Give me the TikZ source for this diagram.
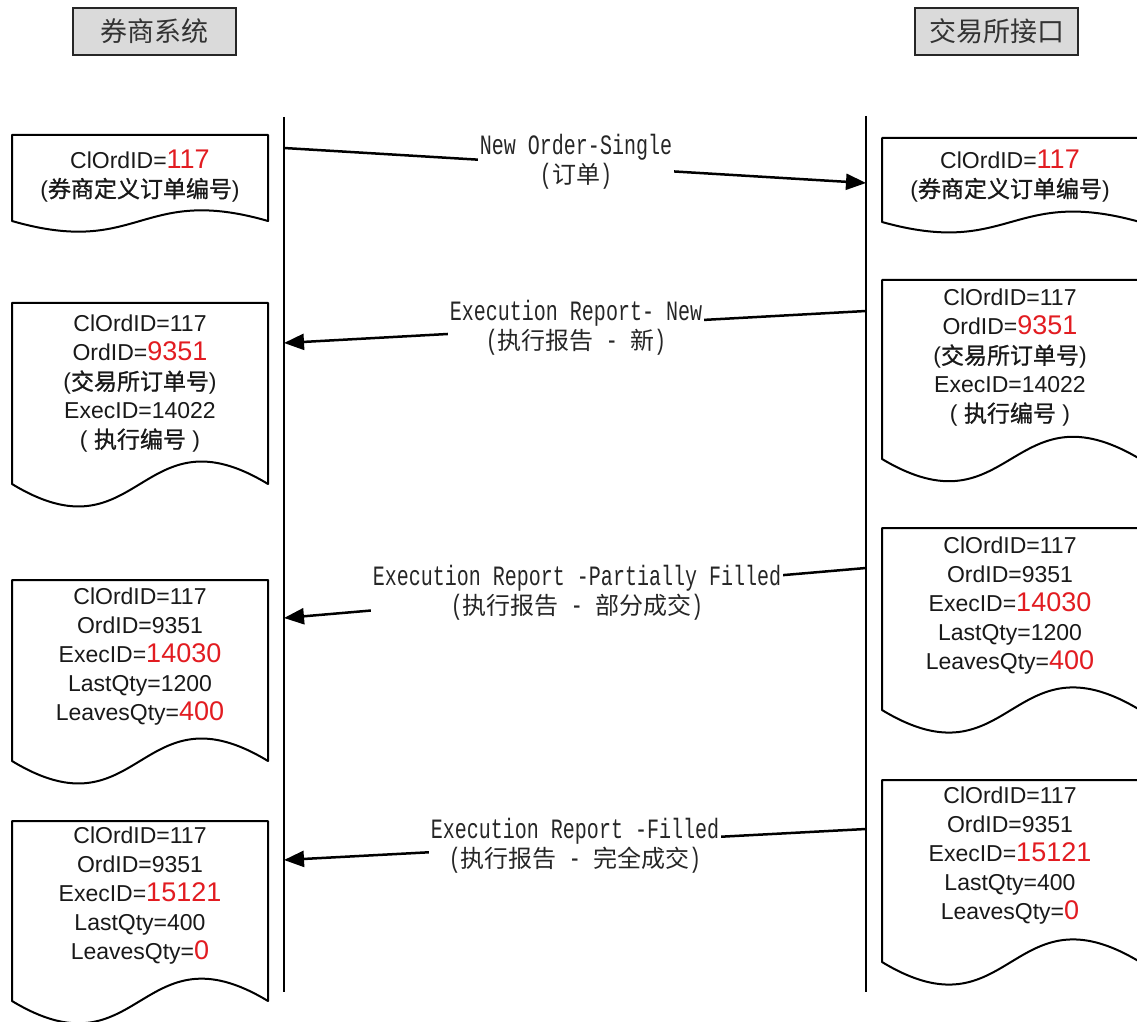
\documentclass[tikz,border=0pt]{standalone}
\usepackage{fontspec}
\setmainfont{Liberation Sans}
\newfontfamily\cjk{Noto Sans CJK SC}
\newfontfamily\cjkm{Noto Sans CJK SC}[FakeBold=1]
\newfontfamily\lblfont{Liberation Mono}[FakeStretch=0.715]
\usetikzlibrary{arrows.meta}
\definecolor{numred}{RGB}{226,28,33}
\definecolor{hdrgray}{RGB}{218,218,218}
\newcommand\rednum[1]{{\color{numred}\fontsize{13.5pt}{14.5pt}\selectfont #1}}
\newcommand\boxzh[1]{{\cjkm\fontsize{11.5pt}{14.5pt}\selectfont #1}}
\newcommand\lblzh[1]{{\cjk\fontsize{12pt}{14.5pt}\selectfont #1}}
\newcommand\docpath[4]{%
  \draw[docshape] (#1,#2+#4) -- (#1,#2) -- (#1+#3,#2) -- (#1+#3,#2+#4)
    .. controls (#1+#3/2,#2+#4-0.43*#4) and (#1+#3/2,#2+#4+0.43*#4) .. (#1,#2+#4) -- cycle;}
\tikzset{
  lifeline/.style={line width=1pt, draw=black},
  msg/.style={line width=1.25pt, draw=black, -{Triangle[length=10pt,width=8pt]}},
  msglabel/.style={fill=white, inner sep=1pt, align=center, text=black!85,
    font=\lblfont\fontsize{14pt}{14.5pt}\selectfont},
  hdr/.style={draw=black!85, line width=0.8pt, fill=hdrgray, minimum width=81.5pt,
    minimum height=23.5pt, inner sep=0pt, text=black!80,
    font=\cjk\fontsize{13.5pt}{14pt}\selectfont},
  docshape/.style={draw=black, line width=1pt, fill=white, line join=round},
  doctext/.style={align=center, inner sep=0pt, text=black!90,
    font=\fontsize{11.5pt}{14.5pt}\selectfont},
}
\begin{document}
\begin{tikzpicture}[x=0.5pt, y=-0.5pt]
\useasboundingbox (0,0) rectangle (1137,1022);
% headers
\node[hdr] (H1) at (154.5,31.5) {券商系统};
\node[hdr] (H2) at (996.5,31.5) {交易所接口};
% lifelines
\coordinate (Ltop) at (284,117);
\coordinate (Lbot) at (284,992);
\coordinate (Rtop) at (866,116);
\coordinate (Rbot) at (866,992);
\draw[lifeline] (Ltop) -- (Lbot);
\draw[lifeline] (Rtop) -- (Rbot);
% documents left
\docpath{12}{135}{256}{86}
\docpath{12}{303}{256}{181}
\docpath{12}{580}{256}{181}
\docpath{12}{821}{256}{180}
% documents right
\docpath{882}{138}{258}{84}
\docpath{882}{280}{258}{179}
\docpath{882}{528}{258}{182}
\docpath{882}{780}{258}{182}
% document texts
\node[doctext] (L1) at (140,176) {ClOrdID=\rednum{117}\\(\boxzh{券商定义订单编号})};
\node[doctext] (L2) at (140,384) {ClOrdID=117\\OrdID=\rednum{9351}\\(\boxzh{交易所订单号})\\ExecID=14022\\( \boxzh{执行编号} )};
\node[doctext] (L3) at (140,657) {ClOrdID=117\\OrdID=9351\\ExecID=\rednum{14030}\\LastQty=1200\\LeavesQty=\rednum{400}};
\node[doctext] (L4) at (140,896) {ClOrdID=117\\OrdID=9351\\ExecID=\rednum{15121}\\LastQty=400\\LeavesQty=\rednum{0}};
\node[doctext] (R1) at (1010,176) {ClOrdID=\rednum{117}\\(\boxzh{券商定义订单编号})};
\node[doctext] (R2) at (1010,358) {ClOrdID=117\\OrdID=\rednum{9351}\\(\boxzh{交易所订单号})\\ExecID=14022\\( \boxzh{执行编号} )};
\node[doctext] (R3) at (1010,606) {ClOrdID=117\\OrdID=9351\\ExecID=\rednum{14030}\\LastQty=1200\\LeavesQty=\rednum{400}};
\node[doctext] (R4) at (1010,856) {ClOrdID=117\\OrdID=9351\\ExecID=\rednum{15121}\\LastQty=400\\LeavesQty=\rednum{0}};
% message end points
\coordinate (m1s) at (284,148);  \coordinate (m1e) at (866,183);
\coordinate (m2s) at (866,311);  \coordinate (m2e) at (284,343);
\coordinate (m3s) at (866,568);  \coordinate (m3e) at (284,618);
\coordinate (m4s) at (866,829);  \coordinate (m4e) at (284,860);
\draw[msg] (m1s) -- (m1e);
\draw[msg] (m2s) -- (m2e);
\draw[msg] (m3s) -- (m3e);
\draw[msg] (m4s) -- (m4e);
% message labels
\node[msglabel] (M1) at (576,162) {New Order-Single\\(\lblzh{订单})};
\node[msglabel] (M2) at (576,328) {Execution Report- New\\(\lblzh{执行报告} - \lblzh{新})};
\node[msglabel] (M3) at (577,593) {Execution Report -Partially Filled\\(\lblzh{执行报告} - \lblzh{部分成交})};
\node[msglabel] (M4) at (575,846) {Execution Report -Filled\\(\lblzh{执行报告} - \lblzh{完全成交})};
\end{tikzpicture}
\end{document}
